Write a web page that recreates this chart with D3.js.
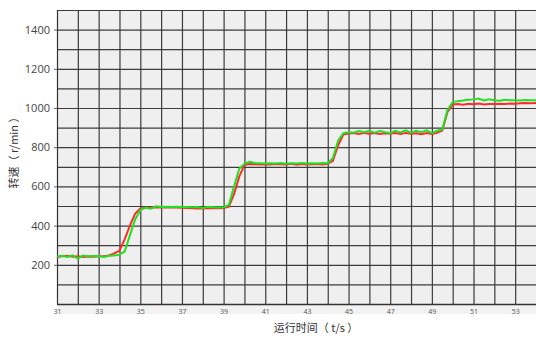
<!DOCTYPE html>
<html><head><meta charset="utf-8">
<script src="https://cdn.jsdelivr.net/npm/d3@7"></script>
<style>body{margin:0;background:#fff}svg{display:block}</style>
</head><body><svg id="c" width="536" height="338"></svg>
<script>
const times = [31,31.25,31.5,31.75,32,32.25,32.5,32.75,33,33.25,33.5,33.75,34,
34.25,34.5,34.75,35,35.25,35.5,35.75,36,36.25,36.5,36.75,37,37.25,37.5,37.75,38,38.25,38.5,38.75,39,
39.25,39.5,39.75,40,40.25,40.5,40.75,41,41.25,41.5,41.75,42,42.25,42.5,42.75,43,43.25,43.5,43.75,44,
44.25,44.5,44.75,45,45.25,45.5,45.75,46,46.25,46.5,46.75,47,47.25,47.5,47.75,48,48.25,48.5,48.75,49,49.25,
49.5,49.75,50,50.25,50.5,50.75,51,51.25,51.5,51.75,52,52.25,52.5,52.75,53,53.25,53.5,53.75,54];
const redSpeed = [240,244,246,241,243,240,242,241,243,244,248,258,272,
330,400,460,487,
490,492,493,492,493,492,492,491,490,489,487,487,488,489,488,490,
497,560,650,710,
714,713,712,713,712,714,713,712,715,711,714,712,713,714,712,716,
730,810,865,870,
872,868,873,869,872,867,871,870,872,868,873,869,871,866,872,868,873,
885,980,1018,
1020,1017,1022,1019,1023,1018,1021,1020,1022,1021,1023,1022,1024,1025,1024,1025];
const greenSpeed = [243,246,240,248,232,247,244,245,244,240,246,247,252,
268,350,430,480,
492,486,498,495,496,495,496,495,495,494,495,490,496,494,492,494,
505,600,690,715,
725,719,718,717,718,717,719,716,718,717,719,717,718,717,719,718,
745,835,872,876,
874,882,876,884,874,882,876,872,884,875,886,874,884,876,886,872,884,
890,990,1030,
1035,1038,1042,1044,1048,1038,1044,1040,1037,1042,1039,1040,1038,1041,1039,1040];
const yTicks = [200,400,600,800,1000,1200,1400];
const xTicks = [31,33,35,37,39,41,43,45,47,49,51,53];

const svg = d3.select("#c");
const L=57, R=536, T=10, B=304;
const x = d3.scaleLinear().domain([31,54]).range([L,R]);
const y = d3.scaleLinear().domain([0,1500]).range([B,T]);

svg.append("rect").attr("x",L).attr("y",T).attr("width",R-L).attr("height",B-T).attr("fill","#efefef");
svg.append("rect").attr("x",L).attr("y",B).attr("width",R-L).attr("height",10).attr("fill","#f2f2f2");

const g = svg.append("g");
g.selectAll(".hg").data(d3.range(100,1501,100)).join("line")
 .attr("x1",L).attr("x2",R).attr("y1",d=>y(d)+0.5).attr("y2",d=>y(d)+0.5)
 .attr("stroke","#3c3c3c").attr("stroke-width",1.2);
g.selectAll(".vg").data(d3.range(32,54,1)).join("line")
 .attr("y1",T).attr("y2",B).attr("x1",d=>x(d)+0.5).attr("x2",d=>x(d)+0.5)
 .attr("stroke","#3c3c3c").attr("stroke-width",1.2);
svg.append("line").attr("x1",L+0.5).attr("x2",L+0.5).attr("y1",T).attr("y2",B).attr("stroke","#333").attr("stroke-width",1.2);
svg.append("line").attr("x1",L).attr("x2",R).attr("y1",B+0.5).attr("y2",B+0.5).attr("stroke","#333").attr("stroke-width",1.5);

const yAxis = svg.append("g").attr("transform",`translate(${L},0)`)
 .call(d3.axisLeft(y).tickValues(yTicks).tickSize(3).tickFormat(d3.format("d")));
yAxis.select(".domain").remove();
yAxis.selectAll("line").attr("stroke","#666");
yAxis.selectAll("text").attr("font-family","'Open Sans','DejaVu Sans',sans-serif").attr("font-size","11px").attr("fill","#444").attr("dx","-1");

const xAxis = svg.append("g").attr("transform",`translate(0,${B})`)
 .call(d3.axisBottom(x).tickValues(xTicks).tickSize(0).tickFormat(d3.format("d")));
xAxis.select(".domain").remove();
xAxis.selectAll("text").attr("font-family","'Open Sans','DejaVu Sans',sans-serif").attr("font-size","7px").attr("fill","#555").attr("dy","0.95em");

const line = d3.line().x((d,i)=>x(times[i])).y(d=>y(d)).curve(d3.curveLinear);
svg.append("path").datum(redSpeed).attr("d",line).attr("fill","none").attr("stroke","#ff2a2a").attr("stroke-width",2);
svg.append("path").datum(greenSpeed).attr("d",line).attr("fill","none").attr("stroke","#22e022").attr("stroke-width",2);

svg.append("text").attr("x",316).attr("y",332).attr("text-anchor","middle")
 .attr("font-family","'Noto Sans CJK SC',sans-serif").attr("font-size","11px").attr("fill","#333")
 .text("运行时间（ t/s ）");
svg.append("text").attr("transform","translate(18,150) rotate(-90)").attr("text-anchor","middle")
 .attr("font-family","'Noto Sans CJK SC',sans-serif").attr("font-size","11px").attr("fill","#333")
 .text("转速（ r/min ）");
</script></body></html>
